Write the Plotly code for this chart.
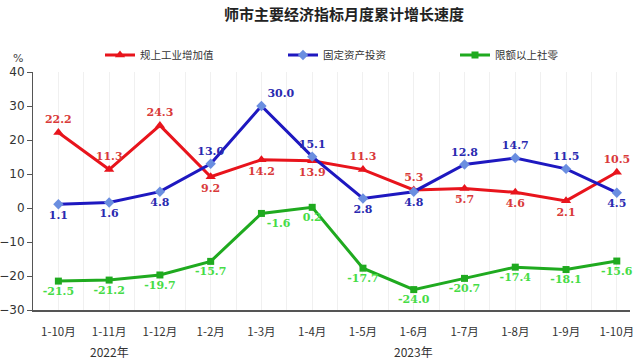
import plotly.graph_objects as go

categories = ["1-10月", "1-11月", "1-12月", "1-2月", "1-3月", "1-4月",
              "1-5月", "1-6月", "1-7月", "1-8月", "1-9月", "1-10月"]
industry = [22.2, 11.3, 24.3, 9.2, 14.2, 13.9, 11.3, 5.3, 5.7, 4.6, 2.1, 10.5]
investment = [1.1, 1.6, 4.8, 13.0, 30.0, 15.1, 2.8, 4.8, 12.8, 14.7, 11.5, 4.5]
retail = [-21.5, -21.2, -19.7, -15.7, -1.6, 0.2, -17.7, -24.0, -20.7, -17.4, -18.1, -15.6]
years = [("2022年", 1), ("2023年", 7)]
y_ticks = [40, 30, 20, 10, 0, -10, -20, -30]

industry_pos = ["top center", "top center", "top center", "bottom center", "bottom center",
                "bottom center", "top center", "top center", "bottom center", "bottom center",
                "bottom center", "top center"]
investment_pos = ["bottom center", "bottom center", "bottom center", "top center", "top right",
                  "top center", "bottom center", "bottom center", "top center", "top center",
                  "top center", "bottom center"]
retail_pos = ["bottom center"] * 4 + ["bottom right"] + ["bottom center"] * 7

xs = list(range(len(categories)))
label_font = "DejaVu Serif"

W, H = 640, 362
L, R, T, B = 33, 10, 72, 52
ph = H - T - B
pw = W - L - R

fig = go.Figure()

def add(name, vals, pos, line_color, marker_color, symbol, msize, text_color, legend):
    fig.add_trace(go.Scatter(
        x=xs, y=vals, name=name, mode="lines+markers+text", legend=legend,
        line=dict(color=line_color, width=3),
        marker=dict(symbol=symbol, size=msize, color=marker_color),
        text=[f"{v:.1f}" for v in vals], textposition=pos,
        textfont=dict(family=label_font, size=11, color=text_color, weight="bold"),
        cliponaxis=False,
    ))

add("规上工业增加值", industry, industry_pos, "#e8141c", "#e8141c", "triangle-up", 9, "#d93a3a", "legend")
add("固定资产投资", investment, investment_pos, "#1e18c0", "#6a8ee0", "diamond", 8, "#2a2ab0", "legend2")
add("限额以上社零", retail, retail_pos, "#1faa1f", "#1faa1f", "square", 7, "#46dc46", "legend3")

annotations = [
    dict(text="%", xref="paper", yref="paper", x=(18 - L) / pw, y=(H - B - 58) / ph,
         showarrow=False, font=dict(family="DejaVu Sans", size=11, color="#444"),
         xanchor="center", yanchor="middle"),
]
for label, idx in years:
    annotations.append(dict(text=label, xref="x", yref="paper", x=idx, y=(H - B - 351) / ph,
                            showarrow=False, xanchor="center", yanchor="middle",
                            font=dict(family="Noto Sans CJK SC", size=12, color="#333")))

def leg(text_start):
    return dict(orientation="h", x=(text_start - 42) / W, xref="container",
                y=1 - 55 / H, yref="container", yanchor="middle", xanchor="left",
                font=dict(family="Noto Sans CJK SC", size=10.5, color="#333"),
                bgcolor="rgba(0,0,0,0)", itemclick=False)

fig.update_layout(
    width=W, height=H,
    margin=dict(l=L, r=R, t=T, b=B, autoexpand=False),
    paper_bgcolor="white", plot_bgcolor="white",
    title=dict(text="<b>师市主要经济指标月度累计增长速度</b>", x=344 / W, xanchor="center",
               y=1 - 15 / H, yanchor="middle",
               font=dict(family="Noto Sans CJK SC", size=15, color="#222")),
    showlegend=True,
    legend=leg(142), legend2=leg(325), legend3=leg(497),
    annotations=annotations,
    xaxis=dict(range=[-0.5, 11.26], tickvals=xs, ticktext=categories, automargin=False,
               showgrid=True, gridcolor="#f0f0f0", gridwidth=1,
               minor=dict(dtick=0.5, tick0=0.5, showgrid=True, gridcolor="#f0f0f0"),
               showline=True, linecolor="#555", linewidth=1.5, ticks="", zeroline=False,
               tickfont=dict(family="Noto Sans CJK SC", size=11.5, color="#333"),
               ticklabelstandoff=10),
    yaxis=dict(range=[-30, 40], tickvals=y_ticks, showgrid=False, zeroline=False, automargin=False,
               showline=True, linecolor="#555", linewidth=1, ticks="outside", ticklen=5,
               tickcolor="#555",
               tickfont=dict(family="DejaVu Sans", size=12, color="#333")),
)

fig.write_html("out.html", config={"displayModeBar": False},
               post_script="document.body.style.margin='0';")
